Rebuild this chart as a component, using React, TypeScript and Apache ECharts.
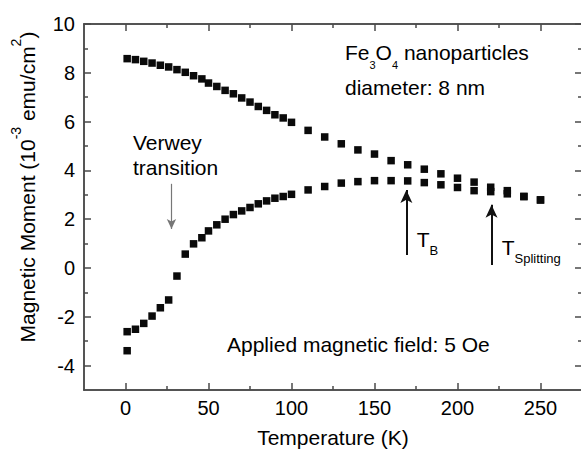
import React, { useEffect, useRef } from 'react';
import * as echarts from 'echarts';

// Temperatures (K)
const lowTemps = [1, 6, 11, 16, 21, 26, 31, 36, 41, 46, 50, 55, 60, 65, 70, 75, 80, 85, 90, 95, 100];
const highTemps = [110, 120, 130, 140, 150, 160, 170, 180, 190, 200, 210, 220, 230, 240, 250];

// Field-cooled (upper) branch, 10^-3 emu/cm^2
const fcMoment = [
  8.58, 8.54, 8.47, 8.40, 8.31, 8.24, 8.13, 8.02, 7.88, 7.75,
  7.58, 7.44, 7.28, 7.14, 6.97, 6.80, 6.62, 6.46, 6.28, 6.15, 5.97,
  5.64, 5.37, 5.09, 4.84, 4.67, 4.40, 4.23, 4.05, 3.86, 3.68,
  3.52, 3.31, 3.17, 2.93, 2.79,
];
// Zero-field-cooled (lower) branch
const zfcExtraTemp = [1];
const zfcExtraMoment = [-3.39];
const zfcMoment = [
  -2.61, -2.51, -2.27, -1.97, -1.63, -1.31, -0.33, 0.57, 0.99, 1.24,
  1.52, 1.77, 2.00, 2.19, 2.34, 2.48, 2.63, 2.75, 2.86, 2.93, 3.02,
  3.20, 3.34, 3.48, 3.54, 3.58, 3.58, 3.57, 3.50, 3.41, 3.30,
  3.17, 3.13, 3.04, 2.93, 2.79,
];

const X_TICKS = [0, 50, 100, 150, 200, 250];
const X_MINOR = [25, 75, 125, 175, 225];
const Y_TICKS = [-4, -2, 0, 2, 4, 6, 8, 10];
const Y_MINOR = [-3, -1, 1, 3, 5, 7, 9];

// annotation arrows [x, yFrom, yTo]
const verweyArrow = [27.7, 3.45, 1.6];
const tbArrow = [169.2, 0.53, 3.2];
const tsArrow = [220.5, 0.12, 2.59];

const FONT = 'Liberation Sans, Arial, Helvetica, sans-serif';
const AXIS_COLOR = '#4a4a4a';
const TEXT_COLOR = '#000';
const MARK_COLOR = '#0a0a0a';

function xAxisDef(position: string, values: number[], len: number, labels: boolean, extra: any = {}) {
  return {
    type: 'value',
    position,
    min: -25,
    max: 275,
    gridIndex: 0,
    axisLine: { show: true, onZero: false, lineStyle: { color: AXIS_COLOR, width: 1.5 } },
    axisTick: { show: true, inside: true, length: len, customValues: values, lineStyle: { color: AXIS_COLOR, width: 1.5 } },
    axisLabel: labels
      ? { show: true, customValues: values, fontSize: 20, color: TEXT_COLOR, margin: 8, fontFamily: FONT }
      : { show: false },
    splitLine: { show: false },
    ...extra,
  };
}

function yAxisDef(position: string, values: number[], len: number, labels: boolean) {
  return {
    type: 'value',
    position,
    min: -5,
    max: 10,
    gridIndex: 0,
    axisLine: { show: true, onZero: false, lineStyle: { color: AXIS_COLOR, width: 1.5 } },
    axisTick: { show: true, inside: true, length: len, customValues: values, lineStyle: { color: AXIS_COLOR, width: 1.5 } },
    axisLabel: labels
      ? { show: true, customValues: values, fontSize: 20, color: TEXT_COLOR, margin: 9, fontFamily: FONT }
      : { show: false },
    splitLine: { show: false },
  };
}

export default function App() {
  const ref = useRef<HTMLDivElement>(null);

  useEffect(() => {
    if (!ref.current) return;
    const chart = echarts.init(ref.current, undefined, { renderer: 'svg' });
    const temps = [...lowTemps, ...highTemps];
    const fcData = temps.map((t, i) => [t, fcMoment[i]]);
    const zfcData = [
      ...zfcExtraTemp.map((t, i) => [t, zfcExtraMoment[i]]),
      ...temps.map((t, i) => [t, zfcMoment[i]]),
    ];

    const H = 34.5;
    const FS = 21;
    const sub11 = { fontSize: 11, height: 11, verticalAlign: 'bottom', fontFamily: FONT, fill: TEXT_COLOR };
    const sub13 = { fontSize: 13, height: 13, verticalAlign: 'bottom', fontFamily: FONT, fill: TEXT_COLOR };

    const option: any = {
      animation: false,
      textStyle: { fontFamily: FONT },
      grid: { left: 84, right: -1, top: 24, bottom: 60, containLabel: false, outerBoundsMode: 'none' },
      xAxis: [
        xAxisDef('bottom', X_TICKS, 7, true, {
          name: 'Temperature (K)',
          nameLocation: 'middle',
          nameGap: 37,
          nameTextStyle: { fontSize: FS, color: TEXT_COLOR, fontFamily: FONT },
        }),
        xAxisDef('bottom', X_MINOR, 4, false),
        xAxisDef('top', X_TICKS, 7, false),
        xAxisDef('top', X_MINOR, 4, false),
      ],
      yAxis: [
        yAxisDef('left', Y_TICKS, 7, true),
        yAxisDef('left', Y_MINOR, 4, false),
        yAxisDef('right', Y_TICKS, 7, false),
        yAxisDef('right', Y_MINOR, 4, false),
      ],
      series: [
        {
          type: 'scatter',
          xAxisIndex: 0,
          yAxisIndex: 0,
          symbol: 'rect',
          symbolSize: 7.5,
          itemStyle: { color: MARK_COLOR, opacity: 1 },
          data: fcData,
          silent: true,
          markLine: {
            silent: true,
            symbol: ['none', 'arrow'],
            symbolSize: [7, 10],
            label: { show: false },
            lineStyle: { color: '#777', width: 1.2, type: 'solid' },
            data: [[{ coord: [verweyArrow[0], verweyArrow[1]] }, { coord: [verweyArrow[0], verweyArrow[2]] }]],
          },
        },
        {
          type: 'scatter',
          xAxisIndex: 0,
          yAxisIndex: 0,
          symbol: 'rect',
          symbolSize: 7.5,
          itemStyle: { color: MARK_COLOR, opacity: 1 },
          data: zfcData,
          silent: true,
          markLine: {
            silent: true,
            symbol: ['none', 'arrow'],
            symbolSize: [9, 13],
            label: { show: false },
            lineStyle: { color: '#111', width: 2, type: 'solid' },
            data: [
              [{ coord: [tbArrow[0], tbArrow[1]] }, { coord: [tbArrow[0], tbArrow[2]] }],
              [{ coord: [tsArrow[0], tsArrow[1]] }, { coord: [tsArrow[0], tsArrow[2]] }],
            ],
          },
        },
      ],
      graphic: [
        {
          type: 'text',
          x: 27,
          y: 187,
          rotation: Math.PI / 2,
          silent: true,
          style: {
            text: 'Magnetic Moment (10{sup|-3} emu/cm{sup|2})',
            fontSize: FS,
            fontFamily: FONT,
            lineHeight: 36,
            fill: TEXT_COLOR,
            align: 'center',
            verticalAlign: 'middle',
            rich: { sup: { fontSize: 14, height: 14, verticalAlign: 'top', fontFamily: FONT, fill: TEXT_COLOR } },
          },
        },
        {
          type: 'text',
          x: 345,
          y: 35.5,
          silent: true,
          style: {
            text: 'Fe{s|3}O{s|4} nanoparticles\ndiameter: 8 nm',
            fontSize: FS,
            fontFamily: FONT,
            lineHeight: H,
            fill: TEXT_COLOR,
            align: 'left',
            verticalAlign: 'top',
            rich: { s: sub11 },
          },
        },
        {
          type: 'text',
          x: 133,
          y: 130.2,
          silent: true,
          style: {
            text: 'Verwey\ntransition',
            fontSize: FS,
            fontFamily: FONT,
            lineHeight: 25,
            fill: TEXT_COLOR,
            align: 'left',
            verticalAlign: 'top',
          },
        },
        {
          type: 'text',
          x: 416.7,
          y: 222.2,
          silent: true,
          style: {
            text: 'T{t|B}',
            fontSize: FS,
            fontFamily: FONT,
            lineHeight: H,
            fill: TEXT_COLOR,
            align: 'left',
            verticalAlign: 'top',
            rich: { t: sub13 },
          },
        },
        {
          type: 'text',
          x: 501.7,
          y: 230.5,
          silent: true,
          style: {
            text: 'T{t|Splitting}',
            fontSize: FS,
            fontFamily: FONT,
            lineHeight: H,
            fill: TEXT_COLOR,
            align: 'left',
            verticalAlign: 'top',
            rich: { t: sub13 },
          },
        },
        {
          type: 'text',
          x: 227,
          y: 344,
          silent: true,
          style: {
            text: 'Applied magnetic field: 5 Oe',
            fontSize: FS,
            fontFamily: FONT,
            fill: TEXT_COLOR,
            align: 'left',
            verticalAlign: 'middle',
          },
        },
      ],
    };
    chart.setOption(option);
    return () => chart.dispose();
  }, []);

  return <div ref={ref} style={{ position: 'absolute', left: 0, top: 0, width: 581, height: 450, background: '#fff' }} />;
}
